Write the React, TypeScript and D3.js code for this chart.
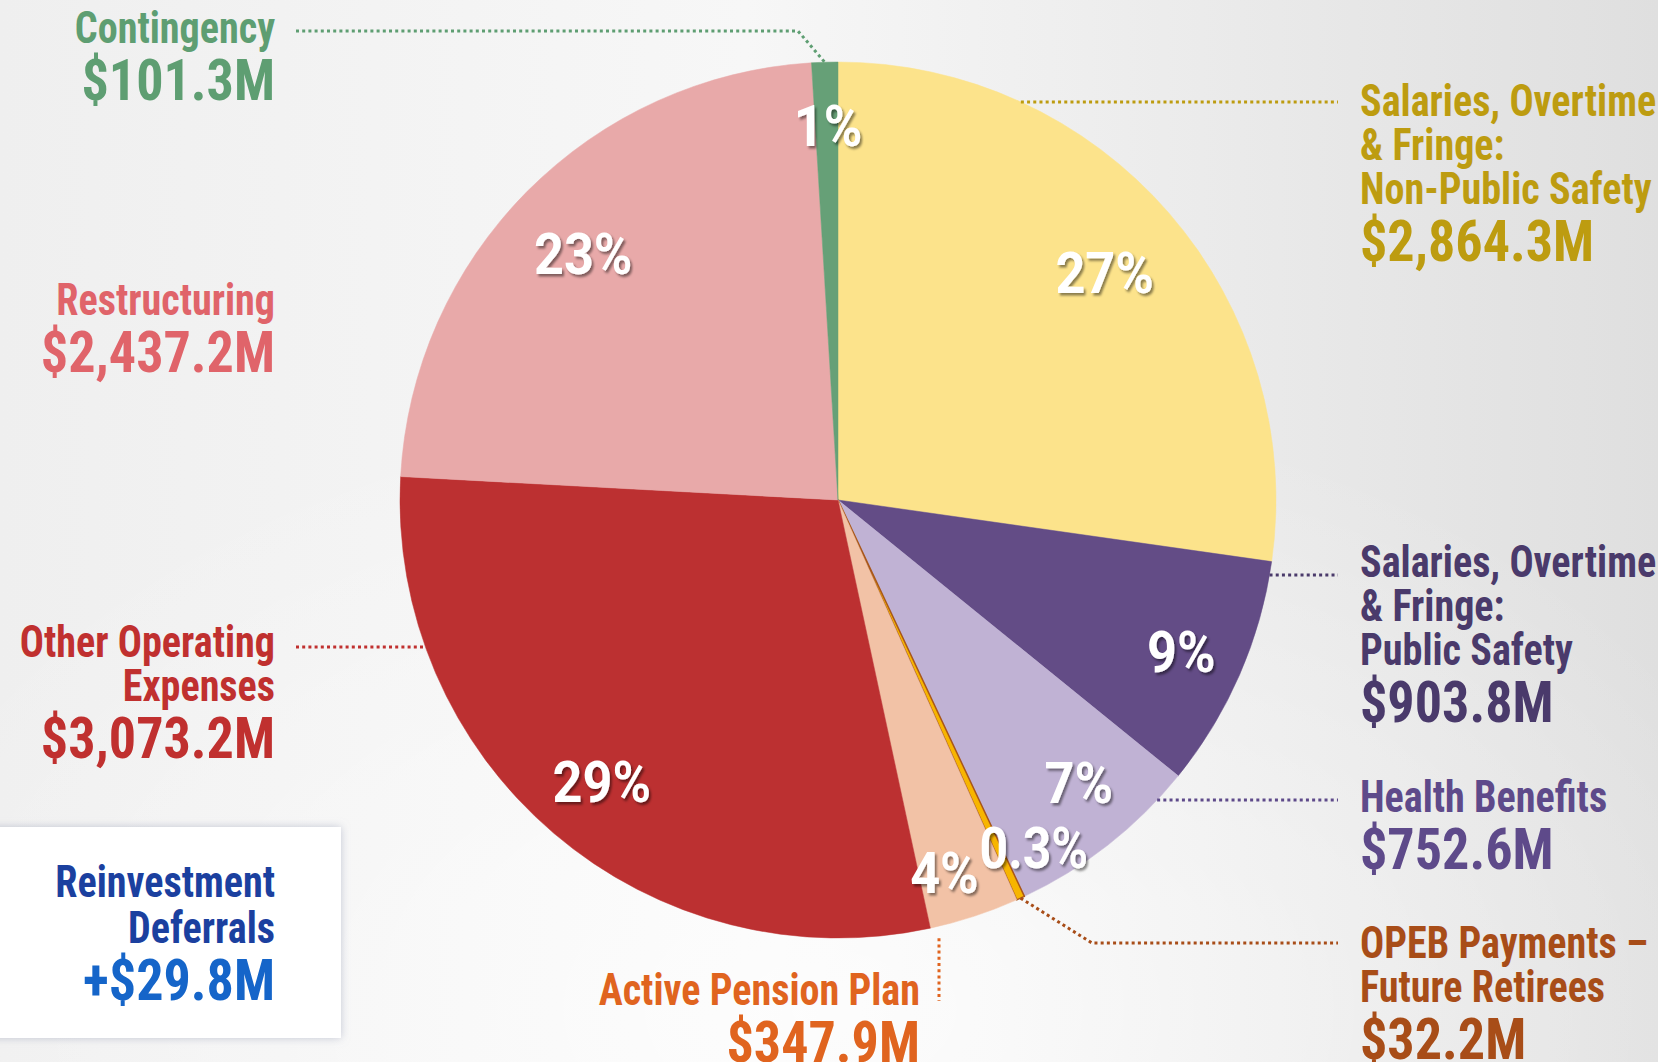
import React from "react";
import * as d3 from "d3";

// slices, clockwise from 12 o'clock
const categories = [
  "Salaries, Overtime & Fringe: Non-Public Safety",
  "Salaries, Overtime & Fringe: Public Safety",
  "Health Benefits",
  "OPEB Payments – Future Retirees",
  "Active Pension Plan",
  "Other Operating Expenses",
  "Restructuring",
  "Contingency",
];
const amounts = [2864.3, 903.8, 752.6, 32.2, 347.9, 3073.2, 2437.2, 101.3];
const percentLabels = ["27%", "9%", "7%", "0.3%", "4%", "29%", "23%", "1%"];
const titleLines = [
  ["Salaries, Overtime", "& Fringe:", "Non-Public Safety"],
  ["Salaries, Overtime", "& Fringe:", "Public Safety"],
  ["Health Benefits"],
  ["OPEB Payments –", "Future Retirees"],
  ["Active Pension Plan"],
  ["Other Operating", "Expenses"],
  ["Restructuring"],
  ["Contingency"],
];
const reinvestmentTitle = ["Reinvestment", "Deferrals"];
const reinvestmentAmount = 29.8;

const sliceColors = ["#fce38b", "#634c86", "#c0b2d4", "#f7b500", "#f2c2a6", "#bc3031", "#e8a9a9", "#66a077"];
const textColors = ["#bd9c10", "#4a3a6b", "#5e4a8a", "#a84d18", "#e0641f", "#c0302f", "#e0646a", "#5e9e72"];

const W = 1658;
const H = 1062;
const cx = 838;
const cy = 500;
const R = 438;
const COND = "'Roboto Condensed', Roboto, 'Liberation Sans', sans-serif";
const FONT = "Roboto, 'Liberation Sans', sans-serif";

// text block positions: x, first baseline, anchor
const blocks = [
  { x: 1360, y: 116, anchor: "start" },
  { x: 1360, y: 577, anchor: "start" },
  { x: 1360, y: 812, anchor: "start" },
  { x: 1360, y: 958, anchor: "start" },
  { x: 920, y: 1005, anchor: "end" },
  { x: 275, y: 657, anchor: "end" },
  { x: 275, y: 315, anchor: "end" },
  { x: 275, y: 43, anchor: "end" },
];
// percent label radius (fraction of R) and angle shift in degrees
const labelPos = [
  [0.8, 0.5], [0.857, 0.3], [0.847, -2.4], [0.91, -4.8],
  [0.885, 2.2], [0.838, -0.4], [0.81, -0.7], [0.855, 0.2],
];

const fmt = d3.format(",.1f");
const money = (v: number) => "$" + fmt(v) + "M";

const Cond = ({ x, y, size, fill, anchor, sx, children }: any) => (
  <text
    transform={`translate(${x},${y}) scale(${sx},1)`}
    fontSize={size}
    fill={fill}
    textAnchor={anchor}
    fontWeight={700}
    fontFamily={COND}
  >
    {children}
  </text>
);

export default function App() {
  const pie = d3.pie<number>().sort(null).value((d) => d);
  const arcs = pie(amounts);
  const arc = d3.arc<d3.PieArcDatum<number>>().innerRadius(0).outerRadius(R);
  const toRad = Math.PI / 180;
  const mid = (a: d3.PieArcDatum<number>) => (a.startAngle + a.endAngle) / 2;
  const pt = (ang: number, r: number): [number, number] => [cx + r * Math.sin(ang), cy - r * Math.cos(ang)];
  const edgeX = (y: number, side: number) => cx + side * Math.sqrt(R * R - (y - cy) * (y - cy));

  const TITLE = 44;
  const VALUE = 57;
  const LINE = 44;
  const GAP = 57;
  const SX_T = 0.912;
  const SX_V = 0.95;

  // leader lines
  const green = pt(mid(arcs[7]), R);
  const opeb = pt(mid(arcs[3]), R);
  const leaders: { pts: [number, number][]; color: string }[] = [
    { pts: [[edgeX(102, 1), 102], [1338, 102]], color: textColors[0] },
    { pts: [[edgeX(575, 1), 575], [1338, 575]], color: textColors[1] },
    { pts: [[edgeX(800, 1), 800], [1338, 800]], color: textColors[2] },
    { pts: [opeb, [1092, 943], [1338, 943]], color: textColors[3] },
    { pts: [[939, cy + Math.sqrt(R * R - 101 * 101) + 12], [939, 1001]], color: textColors[4] },
    { pts: [[296, 647], [edgeX(647, -1), 647]], color: textColors[5] },
    { pts: [[296, 31], [798, 31], green], color: textColors[7] },
  ];
  const line = d3.line();

  return (
    <svg width={W} height={H} style={{ position: "absolute", left: 0, top: 0, display: "block" }}>
      <defs>
        <linearGradient id="bgx" x1="0" x2="1" y1="0" y2="0">
          <stop offset="0" stopColor="#efefef" />
          <stop offset="0.45" stopColor="#f7f7f7" />
          <stop offset="1" stopColor="#dfdfdf" />
        </linearGradient>
        <radialGradient id="glow" cx="0.5" cy="0.95" r="0.6">
          <stop offset="0" stopColor="#ffffff" stopOpacity="0.75" />
          <stop offset="1" stopColor="#ffffff" stopOpacity="0" />
        </radialGradient>
        <filter id="txtShadow" x="-20%" y="-20%" width="140%" height="140%">
          <feDropShadow dx="2" dy="2.5" stdDeviation="1.2" floodColor="#000" floodOpacity="0.45" />
        </filter>
        <filter id="boxShadow" x="-10%" y="-10%" width="120%" height="120%">
          <feDropShadow dx="0" dy="0" stdDeviation="4" floodColor="#9aa0b8" floodOpacity="0.55" />
        </filter>
      </defs>
      <rect width={W} height={H} fill="url(#bgx)" />
      <rect width={W} height={H} fill="url(#glow)" />

      <g transform={`translate(${cx},${cy})`}>
        {arcs.map((a, i) => (
          <path
            key={categories[i]}
            d={arc(a) || ""}
            fill={sliceColors[i]}
            stroke={i === 3 ? "#a8561a" : sliceColors[i]}
            strokeWidth={i === 3 ? 1.5 : 0.5}
            strokeLinejoin="round"
          />
        ))}
      </g>

      {leaders.map((l, i) => (
        <path
          key={i}
          d={line(l.pts) || ""}
          fill="none"
          stroke={l.color}
          strokeWidth={3}
          strokeDasharray="3,3.2"
        />
      ))}

      <g filter="url(#txtShadow)">
        {arcs.map((a, i) => {
          const [f, da] = labelPos[i];
          const [x, y] = pt(mid(a) + da * toRad, R * f);
          const t = percentLabels[i];
          return (
            <text
              key={t}
              transform={`translate(${x},${y}) scale(${t.length > 3 ? 0.86 : 0.9},1)`}
              dy="0.355em"
              textAnchor="middle"
              fontSize={58}
              fontWeight={700}
              fill="#fff"
              fontFamily={FONT}
            >
              {t}
            </text>
          );
        })}
      </g>

      {blocks.map((b, i) => {
        const lines = titleLines[i];
        return (
          <g key={categories[i]}>
            {lines.map((t, j) => (
              <Cond key={j} x={b.x} y={b.y + j * LINE} size={TITLE} fill={textColors[i]} anchor={b.anchor} sx={SX_T}>
                {t}
              </Cond>
            ))}
            <Cond
              x={b.x}
              y={b.y + (lines.length - 1) * LINE + GAP}
              size={VALUE}
              fill={textColors[i]}
              anchor={b.anchor}
              sx={SX_V}
            >
              {money(amounts[i])}
            </Cond>
          </g>
        );
      })}

      <rect x={-20} y={827} width={361} height={211} fill="#fff" filter="url(#boxShadow)" />
      {reinvestmentTitle.map((t, j) => (
        <Cond key={t} x={275} y={897 + j * 46} size={TITLE} fill="#1b409f" anchor="end" sx={SX_T}>
          {t}
        </Cond>
      ))}
      <Cond x={275} y={1000} size={VALUE} fill="#1565c9" anchor="end" sx={SX_V}>
        {"+" + money(reinvestmentAmount)}
      </Cond>
    </svg>
  );
}
